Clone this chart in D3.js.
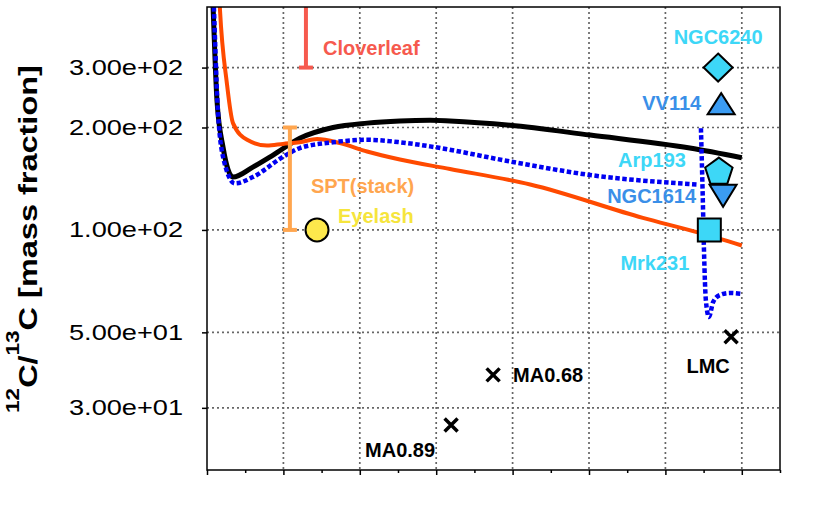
<!DOCTYPE html>
<html>
<head>
<meta charset="utf-8">
<script src="https://cdn.jsdelivr.net/npm/d3@7"></script>
<style>
  body { margin: 0; background: #fff; }
  text { font-family: "Liberation Sans", Arial, Helvetica, sans-serif; }
</style>
</head>
<body>
<div id="chart"></div>
<script>
// tick values
const xTicks = [0, 1, 2, 3, 4, 5, 6, 7, 8, 9, 10, 11, 12, 13, 14, 15];
const xGrid = [2, 4, 6, 8, 10, 12, 14];
const yTicks = [30, 50, 100, 200, 300];

// model curves [x, 12C/13C]
const blackModel = [[0.12, 600], [0.17, 420], [0.26, 241], [0.42, 175], [0.68, 143], [1.2, 153], [1.73, 166],
  [2.43, 186], [3.3, 200], [4.19, 206], [5.05, 209], [5.84, 210], [6.36, 209], [7.93, 203], [10.03, 190],
  [12.64, 174], [14.0, 163]];
const orangeModel = [[0.26, 700], [0.34, 443], [0.52, 270], [0.68, 206], [1.05, 184], [1.57, 177], [1.99, 179],
  [2.43, 181], [2.88, 185], [3.48, 180], [4.19, 170], [5.05, 161], [6.36, 151], [8.46, 136], [11.41, 108.5],
  [12.9, 98], [14.0, 90]];
const blueModel = [[0.14, 600], [0.19, 420], [0.27, 241], [0.42, 164], [0.73, 137], [1.2, 143], [1.99, 164],
  [2.43, 174], [3.3, 181], [4.19, 184], [5.05, 181], [5.84, 176], [7.93, 159], [10.03, 145], [12.82, 136]];
const blueModel2 = [[12.93, 199], [12.98, 122], [13.01, 87], [13.06, 62], [13.14, 55.5], [13.25, 61.4],
  [13.43, 64.4], [13.69, 65.3], [14.0, 64.9]];

// observed galaxies
const galaxyNames = ["NGC6240", "VV114", "Arp193", "NGC1614", "Mrk231", "Eyelash"];
const galaxyX = [13.38, 13.46, 13.40, 13.51, 13.15, 2.88];
const galaxyRatio = [300, 235, 149, 126, 100, 100];

const crossNames = ["LMC", "MA0.68", "MA0.89"];
const crossX = [13.72, 7.49, 6.39];
const crossRatio = [48.5, 37.5, 26.7];

const limitNames = ["Cloverleaf", "SPT(stack)"];
const limitX = [2.59, 2.17];
const limitLow = [300, 100];
const limitHigh = [600, 200];

document.addEventListener("DOMContentLoaded", () => {
    const width = 830;
    const height = 531;
    const plot = { left: 207, right: 780, top: 7, bottom: 470 };

    const cyan = "#3dd7f7";
    const midBlue = "#3b9cf3";
    const midBlueText = "#3a8fe8";

    // styles and label offsets per galaxy
    const galaxyStyle = {
        "NGC6240": { shape: "diamond", fill: cyan, text: cyan, dx: 0, dy: -24, anchor: "middle" },
        "VV114": { shape: "triUp", fill: midBlue, text: midBlueText, dx: -20, dy: 6, anchor: "end" },
        "Arp193": { shape: "pentagon", fill: cyan, text: cyan, dx: -33, dy: -4, anchor: "end" },
        "NGC1614": { shape: "triDown", fill: midBlue, text: midBlueText, dx: -27, dy: 7, anchor: "end" },
        "Mrk231": { shape: "square", fill: cyan, text: cyan, dx: -20, dy: 40, anchor: "end" },
        "Eyelash": { shape: "circle", fill: "#fde84c", text: "#f6e53c", dx: 21, dy: -7, anchor: "start" }
    };
    const crossStyle = {
        "LMC": { dx: -23, dy: 36, anchor: "middle" },
        "MA0.68": { dx: 20, dy: 7, anchor: "start" },
        "MA0.89": { dx: -16, dy: 32, anchor: "end" }
    };
    const limitStyle = {
        "Cloverleaf": { color: "#f65a4e", dx: 17, dy: -13 },
        "SPT(stack)": { color: "#ffa64f", dx: 21, dy: -37 }
    };

    const shapes = {
        diamond: "M0,-14L14.5,0L0,14L-14.5,0Z",
        triUp: "M0,-10.5L13.5,10.5L-13.5,10.5Z",
        triDown: "M-13.5,-11L13.5,-11L0,11Z",
        square: "M-11.5,-11.5H11.5V11.5H-11.5Z",
        pentagon: d3.range(5).map(k => {
            const a = (-90 + 72 * k) * Math.PI / 180;
            return [14.4 * Math.cos(a), 14.4 * Math.sin(a) + 1];
        }).map((p, i) => (i ? "L" : "M") + p[0].toFixed(2) + "," + p[1].toFixed(2)).join("") + "Z"
    };

    const svg = d3.select("#chart")
        .append("svg")
        .attr("width", width)
        .attr("height", height);

    const x = d3.scaleLinear().domain([0, 15]).range([plot.left, plot.right]);
    const y = d3.scaleLog().domain([19.7, 452]).range([plot.bottom, plot.top]);

    svg.append("defs").append("clipPath").attr("id", "clip")
        .append("rect")
        .attr("x", plot.left).attr("y", plot.top)
        .attr("width", plot.right - plot.left).attr("height", plot.bottom - plot.top);

    // grille pointillée
    const grid = svg.append("g")
        .attr("stroke", "#666")
        .attr("stroke-width", 1.7)
        .attr("stroke-dasharray", "2,3");
    grid.selectAll("line.v")
        .data(xGrid)
        .join("line")
        .attr("class", "v")
        .attr("x1", d => x(d)).attr("x2", d => x(d))
        .attr("y1", plot.top).attr("y2", plot.bottom);
    grid.selectAll("line.h")
        .data(yTicks)
        .join("line")
        .attr("class", "h")
        .attr("x1", plot.left).attr("x2", plot.right)
        .attr("y1", d => y(d)).attr("y2", d => y(d));

    // axe Y
    const fmt = d => {
        const [m, e] = d.toExponential(2).split("e");
        return `${m}e${e[0]}${e.slice(1).padStart(2, "0")}`;
    };
    const yAxis = svg.append("g")
        .attr("transform", `translate(${plot.left},0)`)
        .call(d3.axisLeft(y).tickValues(yTicks).tickFormat(fmt).tickSize(5).tickPadding(19));
    yAxis.select(".domain").remove();
    yAxis.selectAll("line").attr("stroke-width", 1.5);
    yAxis.selectAll("text")
        .style("font-size", "22px")
        .attr("fill", "#000")
        .attr("textLength", 114)
        .attr("lengthAdjust", "spacingAndGlyphs");

    // axe X (graduations sans étiquettes)
    const xAxis = svg.append("g")
        .attr("transform", `translate(0,${plot.bottom})`)
        .call(d3.axisBottom(x).tickValues(xTicks).tickFormat("").tickSize(5));
    xAxis.select(".domain").remove();
    xAxis.selectAll("line")
        .attr("stroke-width", 1.5)
        .attr("y2", d => (d % 2 === 0 ? 5 : 3));

    // modèles
    const line = d3.line()
        .x(d => x(d[0]))
        .y(d => y(d[1]))
        .curve(d3.curveMonotoneX);

    const curves = svg.append("g").attr("clip-path", "url(#clip)").attr("fill", "none");
    curves.append("path").attr("d", line(blackModel))
        .attr("stroke", "#000").attr("stroke-width", 5);
    curves.append("path").attr("d", line(orangeModel))
        .attr("stroke", "#ff4a00").attr("stroke-width", 4);
    [blueModel, blueModel2].forEach(m => {
        curves.append("path").attr("d", line(m))
            .attr("stroke", "#0000f2").attr("stroke-width", 4.5)
            .attr("stroke-dasharray", "4.5,2.5");
    });

    // barres (limites)
    const limits = svg.append("g").attr("clip-path", "url(#clip)");
    limitNames.forEach((n, i) => {
        const s = limitStyle[n];
        const g = limits.append("g").attr("stroke", s.color).attr("stroke-width", 4);
        g.append("line")
            .attr("x1", x(limitX[i])).attr("x2", x(limitX[i]))
            .attr("y1", y(limitLow[i])).attr("y2", y(limitHigh[i]));
        [limitLow[i], limitHigh[i]].forEach(v => {
            g.append("line")
                .attr("x1", x(limitX[i]) - 7).attr("x2", x(limitX[i]) + 7)
                .attr("y1", y(v)).attr("y2", y(v));
        });
    });
    limitNames.forEach((n, i) => {
        const s = limitStyle[n];
        svg.append("text")
            .attr("x", x(limitX[i]) + s.dx)
            .attr("y", y(limitLow[i]) + s.dy)
            .attr("fill", s.color)
            .style("font-size", "20px")
            .style("font-weight", "bold")
            .text(n);
    });

    // galaxies
    galaxyNames.forEach((n, i) => {
        const s = galaxyStyle[n];
        const cx = x(galaxyX[i]), cy = y(galaxyRatio[i]);
        if (s.shape === "circle") {
            svg.append("circle").attr("cx", cx).attr("cy", cy).attr("r", 11.5)
                .attr("fill", s.fill).attr("stroke", "#000").attr("stroke-width", 2);
        } else {
            svg.append("path").attr("d", shapes[s.shape])
                .attr("transform", `translate(${cx},${cy})`)
                .attr("fill", s.fill).attr("stroke", "#000").attr("stroke-width", 2)
                .attr("stroke-linejoin", "miter");
        }
        svg.append("text")
            .attr("x", cx + s.dx).attr("y", cy + s.dy)
            .attr("text-anchor", s.anchor)
            .attr("fill", s.text)
            .style("font-size", "20px")
            .style("font-weight", "bold")
            .text(n);
    });

    // croix
    crossNames.forEach((n, i) => {
        const s = crossStyle[n];
        const cx = x(crossX[i]), cy = y(crossRatio[i]);
        svg.append("path")
            .attr("d", "M-6.5,-6.5L6.5,6.5M-6.5,6.5L6.5,-6.5")
            .attr("transform", `translate(${cx},${cy})`)
            .attr("stroke", "#000").attr("stroke-width", 3.5);
        svg.append("text")
            .attr("x", cx + s.dx).attr("y", cy + s.dy)
            .attr("text-anchor", s.anchor)
            .attr("fill", "#000")
            .style("font-size", "20px")
            .style("font-weight", "bold")
            .text(n);
    });

    // cadre
    svg.append("rect")
        .attr("x", plot.left).attr("y", plot.top)
        .attr("width", plot.right - plot.left).attr("height", plot.bottom - plot.top)
        .attr("fill", "none").attr("stroke", "#000").attr("stroke-width", 1.5);

    // titre de l'axe Y
    const title = svg.append("text")
        .attr("text-anchor", "middle")
        .attr("fill", "#000")
        .style("font-size", "26px")
        .style("font-weight", "bold");
    title.append("tspan").attr("dy", -18).style("font-size", "18px").text("12");
    title.append("tspan").attr("dy", 18).text("C/");
    title.append("tspan").attr("dy", -18).style("font-size", "18px").text("13");
    title.append("tspan").attr("dy", 18).text("C [mass fraction]");
    const len = title.node().getComputedTextLength();
    title.attr("transform", `translate(37,239) rotate(-90) scale(${348 / len},1)`);
});
</script>
</body>
</html>
